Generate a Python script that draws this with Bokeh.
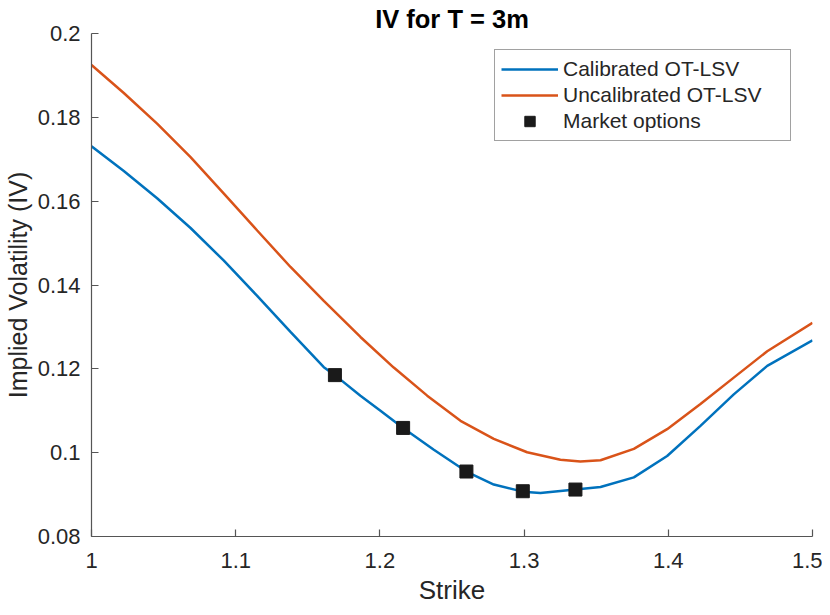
from bokeh.plotting import figure
from bokeh.models import Range1d, FixedTicker, Legend, LegendItem, Title
from bokeh.embed import file_html
from bokeh.resources import INLINE

# ---- data ----
strike_cal = [1.0, 1.0224, 1.0455, 1.0687, 1.0918, 1.1149, 1.138, 1.1611, 1.1688,
              1.1865, 1.2004, 1.2161, 1.2374, 1.260, 1.279, 1.2991, 1.3113, 1.3356,
              1.353, 1.3761, 1.3992, 1.4223, 1.4454, 1.4686, 1.5]
iv_cal = [0.1731, 0.1672, 0.1607, 0.1536, 0.1458, 0.1374, 0.1288, 0.1204, 0.1185,
          0.1136, 0.1100, 0.1059, 0.1007, 0.0955, 0.0924, 0.0907, 0.0904, 0.0912,
          0.0918, 0.0941, 0.0992, 0.1064, 0.1139, 0.1207, 0.1268]

strike_uncal = [1.0, 1.0224, 1.0455, 1.0687, 1.0918, 1.1149, 1.138, 1.1611, 1.1865,
                1.2096, 1.2328, 1.2559, 1.279, 1.3021, 1.3252, 1.339, 1.353, 1.3761,
                1.3992, 1.4223, 1.4454, 1.4686, 1.5]
iv_uncal = [0.1925, 0.1858, 0.1785, 0.1705, 0.1618, 0.1530, 0.1443, 0.1362, 0.1276,
            0.1203, 0.1136, 0.1076, 0.1033, 0.1001, 0.0983, 0.0979, 0.0982, 0.1009,
            0.1056, 0.1116, 0.1179, 0.1242, 0.1310]

market_strike = [1.1688, 1.2161, 1.2600, 1.2991, 1.3356]
market_iv = [0.1185, 0.1059, 0.0955, 0.0908, 0.0912]

x_ticks = [1.0, 1.1, 1.2, 1.3, 1.4, 1.5]
x_tick_labels = ["1", "1.1", "1.2", "1.3", "1.4", "1.5"]
y_ticks = [0.08, 0.10, 0.12, 0.14, 0.16, 0.18, 0.20]
y_tick_labels = ["0.08", "0.1", "0.12", "0.14", "0.16", "0.18", "0.2"]

title_text = "IV for T = 3m"
x_label = "Strike"
y_label = "Implied Volatility (IV)"
series_names = ["Calibrated OT-LSV", "Uncalibrated OT-LSV", "Market options"]

FONT = "Liberation Sans"
TXT = "#262626"
AX = "#555555"

p = figure(width=822, height=607, output_backend="svg", toolbar_location=None,
           title=None,
           x_range=Range1d(1.0, 1.5), y_range=Range1d(0.08, 0.2),
           min_border_left=91, min_border_right=10, min_border_top=33,
           min_border_bottom=71)
p.outline_line_color = None
p.grid.visible = False
p.background_fill_color = "white"
p.border_fill_color = "white"

title = Title(text=title_text, align="center", text_font=FONT,
              text_font_size="25.5px", text_font_style="bold",
              text_color="#000000", standoff=1.5, offset=0)
p.add_layout(title, "above")

for ax in (p.xaxis[0], p.yaxis[0]):
    ax.axis_line_color = AX
    ax.axis_line_width = 1.2
    ax.major_tick_line_color = AX
    ax.major_tick_line_width = 1.2
    ax.major_tick_in = 7
    ax.major_tick_out = 0
    ax.minor_tick_line_color = None
    ax.major_label_text_font = FONT
    ax.major_label_text_font_size = "22px"
    ax.major_label_text_color = TXT
    ax.axis_label_text_font = FONT
    ax.axis_label_text_font_style = "normal"
    ax.axis_label_text_color = TXT

p.xaxis.ticker = FixedTicker(ticks=x_ticks)
p.xaxis.major_label_overrides = {t: l for t, l in zip(x_ticks, x_tick_labels)}
p.yaxis.ticker = FixedTicker(ticks=y_ticks)
p.yaxis.major_label_overrides = {t: l for t, l in zip(y_ticks, y_tick_labels)}
p.xaxis.major_label_standoff = 16
p.yaxis.major_label_standoff = 11

p.xaxis.axis_label = x_label
p.xaxis.axis_label_text_font_size = "26px"
p.xaxis.axis_label_standoff = 4
p.yaxis.axis_label = y_label
p.yaxis.axis_label_text_font_size = "25px"
p.yaxis.axis_label_standoff = 3

r_cal = p.line(strike_cal, iv_cal, line_color="#0072BD", line_width=2.5)
r_unc = p.line(strike_uncal, iv_uncal, line_color="#D95319", line_width=2.5)
r_mkt = p.scatter(market_strike, market_iv, marker="square", size=13,
                  fill_color="#1a1a1a", line_color="#1a1a1a")

legend = Legend(items=[LegendItem(label=series_names[0], renderers=[r_cal]),
                       LegendItem(label=series_names[1], renderers=[r_unc]),
                       LegendItem(label=series_names[2], renderers=[r_mkt])],
                location=(403, 395))
legend.label_text_font = FONT
legend.label_text_font_size = "21px"
legend.label_text_color = TXT
legend.border_line_color = "#444444"
legend.border_line_width = 1.2
legend.background_fill_alpha = 1.0
legend.padding = 6
legend.spacing = 0
legend.glyph_width = 57
legend.glyph_height = 26
legend.label_height = 26
legend.label_width = 221
legend.label_standoff = 5
legend.margin = 0
p.add_layout(legend)

open("out.html", "w").write(file_html(p, INLINE))
